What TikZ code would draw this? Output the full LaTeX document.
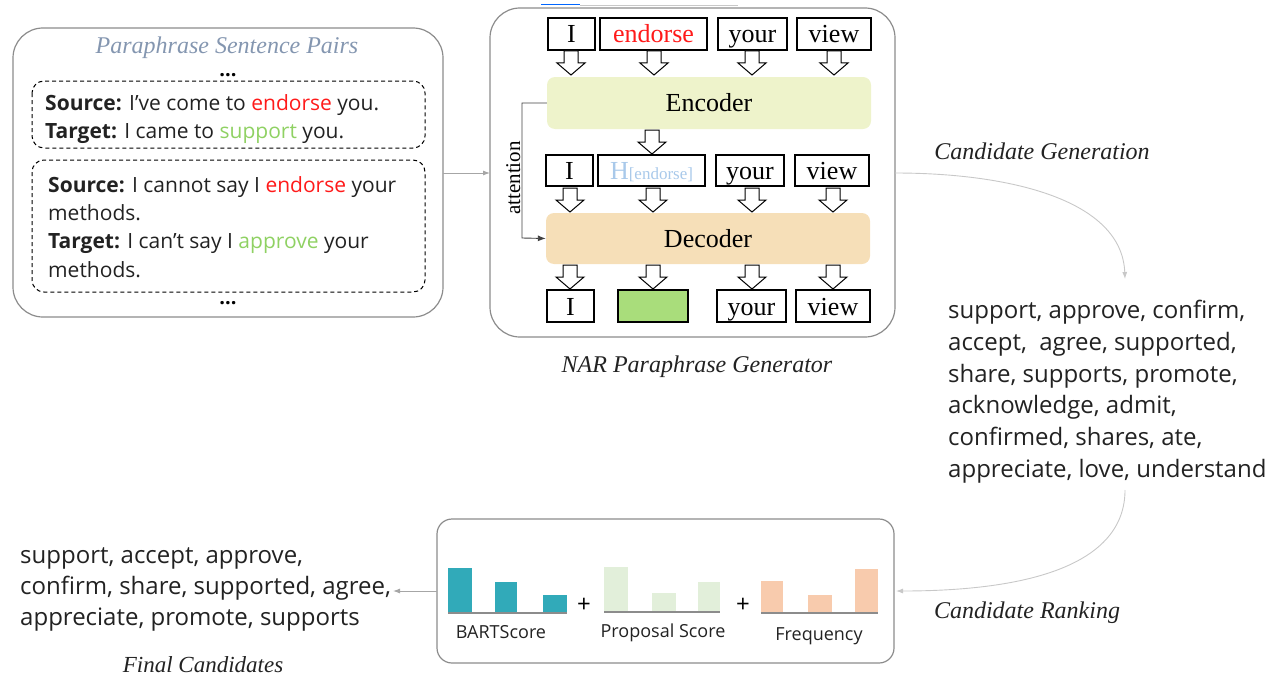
\documentclass[tikz,border=0pt]{standalone}
\usepackage{fontspec}
\setmainfont{Liberation Serif}
\newfontfamily\sansf{Open Sans}
\usetikzlibrary{arrows.meta}
\definecolor{boxgray}{HTML}{8C8C8C}
\definecolor{linegray}{HTML}{A6A6A6}
\definecolor{curvegray}{HTML}{C8C8C8}
\definecolor{wred}{HTML}{FF1A1A}
\definecolor{wgreen}{HTML}{8FD163}
\definecolor{titleblue}{HTML}{8496B0}
\definecolor{hblue}{HTML}{A9C9EA}
\definecolor{encfill}{HTML}{EEF3CB}
\definecolor{decfill}{HTML}{F6DFB8}
\definecolor{greenbox}{HTML}{A9DD7B}
\definecolor{tealbar}{HTML}{31AAB9}
\definecolor{propbar}{HTML}{E2EFDA}
\definecolor{freqbar}{HTML}{F8CBAD}
\definecolor{txt}{HTML}{222222}
\newcommand\fs[1]{\fontsize{#1}{#1}\selectfont}
\newcommand\harrow[2]{\draw[harr] ({#1-7},#2) -- ({#1+7},#2) -- ({#1+7},{#2+12}) -- ({#1+14},{#2+12}) -- (#1,{#2+24}) -- ({#1-14},{#2+12}) -- ({#1-7},{#2+12}) -- cycle;}
\tikzset{
  wbox/.style={draw, line width=1.3pt, inner sep=0pt, font=\fs{26}, text height=18pt, text depth=0pt},
  harr/.style={draw=black, fill=white, line width=1pt, line join=miter},
  outer/.style={draw=boxgray, line width=1.2pt, rounded corners=30pt},
  dbox/.style={draw=black, line width=1pt, dashed, dash pattern=on 4pt off 3pt, rounded corners=12pt},
  stxt/.style={anchor=base west, inner sep=0pt, font=\sansf\fs{21}, text=txt},
  ctxt/.style={anchor=base west, inner sep=0pt, font=\sansf\fs{24}, text=txt},
  itl/.style={anchor=base, inner sep=0pt, font=\itshape\fs{24}, text=txt},
  conn/.style={draw=linegray, line width=0.9pt, -{Latex[length=7pt,width=5pt]}},
  curv/.style={draw=curvegray, line width=0.9pt, -{Latex[length=7pt,width=5pt]}},
  bar/.style={inner sep=0pt, anchor=south west},
  blab/.style={anchor=base, inner sep=0pt, font=\sansf\fs{18}, text=txt},
}
\begin{document}
\begin{tikzpicture}[x=1pt,y=-1pt]
\useasboundingbox (0,0) rectangle (1271,677);
% clipped caption fragments at the top
\draw[draw=curvegray, line width=0.6pt] (580,5) -- (738,5);
\draw[draw=blue!60!cyan, line width=1pt] (541,5) -- (580,5);

% ---------- left box ----------
\draw[outer] (13,28) rectangle (443,317);
\node[coordinate] (leftE) at (443,173) {};
\node[itl, text=titleblue] (ptitle) at (227,53) {Paraphrase Sentence Pairs};
\node[anchor=base, inner sep=0pt, font=\sansf\bfseries\fs{20}] (dots1) at (228,77) {...};
\draw[dbox] (32,81) rectangle (425,148);
\node[stxt] (s1) at (45,110) {\textbf{Source:} I’ve come to \textcolor{wred}{endorse} you.};
\node[stxt] (t1) at (45,138) {\textbf{Target:} I came to \textcolor{wgreen}{support} you.};
\draw[dbox] (32,160) rectangle (425,292);
\node[stxt] (s2) at (48,192) {\textbf{Source:} I cannot say I \textcolor{wred}{endorse} your};
\node[stxt] (s2b) at (48,220) {methods.};
\node[stxt] (t2) at (48,248) {\textbf{Target:} I can’t say I \textcolor{wgreen}{approve} your};
\node[stxt] (t2b) at (48,277) {methods.};
\node[anchor=base, inner sep=0pt, font=\sansf\bfseries\fs{20}] (dots2) at (228,304) {...};

% ---------- NAR box ----------
\draw[outer] (490,8) rectangle (895,337);
\node[coordinate] (narW) at (490,173) {};
\node[coordinate] (narE) at (895,173) {};
\draw[conn] (leftE) -- (narW);

% row 1
\node[wbox, minimum width=47pt, minimum height=32pt] (a1) at (571.5,34) {I};
\node[wbox, minimum width=107pt, minimum height=32pt, text=wred] (a2) at (653.5,34) {endorse};
\node[wbox, minimum width=69pt, minimum height=32pt] (a3) at (752.5,34) {your};
\node[wbox, minimum width=74pt, minimum height=32pt] (a4) at (834,34) {view};
\harrow{571}{51}\harrow{654}{51}\harrow{752}{51}\harrow{834}{51}
\node[fill=encfill, rounded corners=8pt, minimum width=324pt, minimum height=52pt, inner sep=0pt, font=\fs{26}] (enc) at (709,103) {Encoder};
\harrow{652}{130}
% row 2
\node[wbox, minimum width=47pt, minimum height=31pt] (b1) at (569.5,170.5) {I};
\node[wbox, minimum width=107pt, minimum height=31pt, text=hblue] (b2) at (651.5,170.5) {H{\fs{17}[endorse]}};
\node[wbox, minimum width=68pt, minimum height=31pt] (b3) at (750,170.5) {your};
\node[wbox, minimum width=74pt, minimum height=31pt] (b4) at (832,170.5) {view};
\harrow{570}{188}\harrow{653}{188}\harrow{752}{188}\harrow{833}{188}
\node[fill=decfill, rounded corners=8pt, minimum width=324pt, minimum height=51pt, inner sep=0pt, font=\fs{26}] (dec) at (708,238.5) {Decoder};
\harrow{570}{265}\harrow{653}{265}\harrow{752}{265}\harrow{833}{265}
% row 3
\node[wbox, minimum width=47pt, minimum height=32pt] (c1) at (570.5,306) {I};
\node[wbox, fill=greenbox, minimum width=70pt, minimum height=32pt] (c2) at (653,306) {};
\node[wbox, minimum width=69pt, minimum height=32pt] (c3) at (751.5,306) {your};
\node[wbox, minimum width=74pt, minimum height=32pt] (c4) at (833,306) {view};
% attention
\draw[draw=black!75, line width=0.9pt, -{Latex[length=8pt,width=6pt]}] (enc.west) -| (522,238) -- (dec.west);
\node[rotate=90, inner sep=0pt, font=\fs{21}, anchor=base] (att) at (520,178) {attention};
\node[itl] (nar) at (697,372) {NAR Paraphrase Generator};

% ---------- candidate generation ----------
\node[itl] (cg) at (1042,159) {Candidate Generation};
\node[coordinate] (genend) at (1125,279) {};
\draw[curv] (narE) .. controls (1010,173) and (1122,200) .. (genend);
\node[ctxt] (k1) at (948,318) {support, approve, confirm,};
\node[ctxt] (k2) at (948,350) {accept,\ \ agree, supported,};
\node[ctxt] (k3) at (948,382) {share, supports, promote,};
\node[ctxt] (k4) at (948,413) {acknowledge, admit,};
\node[ctxt] (k5) at (948,445) {confirmed, shares, ate,};
\node[ctxt] (k6) at (948,477) {appreciate, love, understand};
\node[coordinate] (rankstart) at (1125,490) {};

% ---------- ranking box ----------
\draw[outer, rounded corners=15pt] (437,519) rectangle (894,663);
\node[coordinate] (rankE) at (896,591) {};
\node[coordinate] (rankW) at (437,591) {};
\draw[curv] (rankstart) .. controls (1125,560) and (1040,591) .. (rankE);
\node[itl] (cr) at (1027,618) {Candidate Ranking};

% BARTScore
\node[bar, fill=tealbar, minimum width=24pt, minimum height=45pt] (bs1) at (448,613) {};
\node[bar, fill=tealbar, minimum width=22pt, minimum height=31pt] (bs2) at (495,613) {};
\node[bar, fill=tealbar, minimum width=24pt, minimum height=18pt] (bs3) at (543,613) {};
\draw[draw=boxgray, line width=1.3pt] (bs1.south west) -- (bs3.south east);
\node[blab] (bsl) at (501,638) {BARTScore};
\node[anchor=center, inner sep=0pt, font=\sansf\fs{24}] (plus1) at (584,605) {+};
% Proposal score
\node[bar, fill=propbar, minimum width=24pt, minimum height=45pt] (ps1) at (604,612) {};
\node[bar, fill=propbar, minimum width=24pt, minimum height=19pt] (ps2) at (652,612) {};
\node[bar, fill=propbar, minimum width=22pt, minimum height=30pt] (ps3) at (698,612) {};
\draw[draw=boxgray, line width=1.3pt] (ps1.south west) -- (ps3.south east);
\node[blab] (psl) at (663,637) {Proposal Score};
\node[anchor=center, inner sep=0pt, font=\sansf\fs{24}] (plus2) at (743,605) {+};
% Frequency
\node[bar, fill=freqbar, minimum width=22pt, minimum height=32pt] (fq1) at (761,613) {};
\node[bar, fill=freqbar, minimum width=24pt, minimum height=18pt] (fq2) at (808,613) {};
\node[bar, fill=freqbar, minimum width=23pt, minimum height=44pt] (fq3) at (855,613) {};
\draw[draw=boxgray, line width=1.3pt] (fq1.south west) -- (fq3.south east);
\node[blab] (fql) at (819,640) {Frequency};

% ---------- final candidates ----------
\node[coordinate] (finE) at (393,591) {};
\draw[conn] (rankW) -- (finE);
\node[ctxt] (f1) at (20,563) {support, accept, approve,};
\node[ctxt] (f2) at (20,594) {confirm, share, supported, agree,};
\node[ctxt] (f3) at (20,625) {appreciate, promote, supports};
\node[itl, font=\itshape\fs{23}] (fc) at (203,672) {Final Candidates};
\end{tikzpicture}
\end{document}
